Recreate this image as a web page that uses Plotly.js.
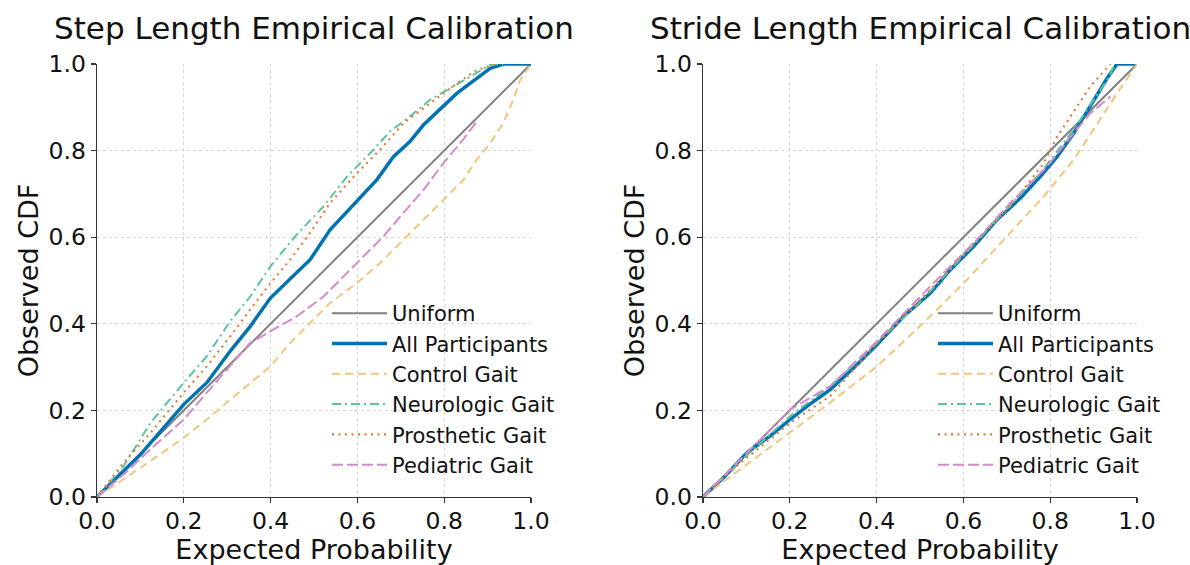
<!DOCTYPE html>
<html>
<head>
<meta charset="utf-8">
<script src="https://cdn.plot.ly/plotly-3.0.1.min.js"></script>
<style>html,body{margin:0;padding:0;background:#fff;}#chart{width:1190px;height:565px;}</style>
</head>
<body>
<div id="chart"></div>
<script>
// ---------- Data ----------
const uniformX = [0, 1];
const uniformY = [0, 1];

// Step length (left panel)
const stepAllX = [0, 0.1, 0.2, 0.253, 0.307, 0.353, 0.4, 0.453, 0.491, 0.537, 0.599, 0.645, 0.683, 0.721, 0.752, 0.798, 0.829, 0.875, 0.906, 0.936, 1.0];
const stepAllY = [0, 0.098, 0.214, 0.264, 0.337, 0.394, 0.46, 0.51, 0.548, 0.617, 0.683, 0.733, 0.786, 0.821, 0.859, 0.902, 0.932, 0.967, 0.99, 1.0, 1.0];
const stepControlX = [0, 0.061, 0.123, 0.2, 0.253, 0.307, 0.4, 0.445, 0.491, 0.537, 0.599, 0.652, 0.706, 0.752, 0.798, 0.844, 0.875, 0.906, 0.936, 0.959, 0.975, 1.0];
const stepControlY = [0, 0.041, 0.083, 0.137, 0.179, 0.225, 0.302, 0.356, 0.402, 0.448, 0.494, 0.54, 0.594, 0.64, 0.686, 0.732, 0.779, 0.817, 0.863, 0.917, 0.963, 1.0];
const stepNeuroX = [0, 0.061, 0.123, 0.2, 0.253, 0.307, 0.353, 0.4, 0.46, 0.522, 0.576, 0.637, 0.675, 0.721, 0.767, 0.813, 0.86, 0.906, 0.936];
const stepNeuroY = [0, 0.071, 0.171, 0.264, 0.325, 0.406, 0.463, 0.533, 0.606, 0.671, 0.74, 0.802, 0.844, 0.879, 0.917, 0.944, 0.971, 0.998, 1.0];
const stepProsX = [0, 0.061, 0.123, 0.2, 0.253, 0.307, 0.353, 0.4, 0.445, 0.491, 0.537, 0.599, 0.652, 0.706, 0.767, 0.829, 0.875, 0.921];
const stepProsY = [0, 0.079, 0.148, 0.241, 0.302, 0.371, 0.433, 0.494, 0.548, 0.61, 0.679, 0.748, 0.802, 0.863, 0.909, 0.955, 0.986, 1.0];
const stepPedX = [0, 0.061, 0.123, 0.2, 0.253, 0.307, 0.353, 0.4, 0.46, 0.522, 0.568, 0.614, 0.66, 0.706, 0.752, 0.798, 0.837, 0.875];
const stepPedY = [0, 0.052, 0.11, 0.179, 0.241, 0.302, 0.356, 0.383, 0.417, 0.463, 0.51, 0.556, 0.602, 0.656, 0.709, 0.771, 0.817, 0.867];

// Stride length (right panel)
const strideAllX = [0, 0.048, 0.101, 0.155, 0.201, 0.24, 0.293, 0.347, 0.401, 0.462, 0.524, 0.57, 0.624, 0.677, 0.731, 0.777, 0.816, 0.854, 0.892, 0.931, 0.954, 1.0];
const strideAllY = [0, 0.045, 0.102, 0.141, 0.179, 0.21, 0.248, 0.298, 0.352, 0.417, 0.471, 0.525, 0.579, 0.64, 0.69, 0.74, 0.786, 0.84, 0.902, 0.967, 1.0, 1.0];
const strideControlX = [0, 0.086, 0.201, 0.293, 0.401, 0.508, 0.601, 0.693, 0.785, 0.854, 0.908, 0.954, 1.0];
const strideControlY = [0, 0.064, 0.148, 0.218, 0.302, 0.402, 0.494, 0.594, 0.694, 0.779, 0.863, 0.932, 1.0];
const strideNeuroX = [0, 0.1, 0.201, 0.3, 0.401, 0.5, 0.624, 0.7, 0.777, 0.854, 0.931, 0.95];
const strideNeuroY = [0, 0.095, 0.187, 0.262, 0.356, 0.45, 0.583, 0.665, 0.748, 0.848, 0.963, 1.0];
const strideProsX = [0, 0.086, 0.201, 0.293, 0.401, 0.524, 0.631, 0.708, 0.785, 0.816, 0.862, 0.892, 0.939];
const strideProsY = [0, 0.079, 0.171, 0.233, 0.356, 0.479, 0.594, 0.671, 0.771, 0.832, 0.902, 0.948, 1.0];
const stridePedX = [0, 0.086, 0.201, 0.293, 0.401, 0.524, 0.631, 0.708, 0.793, 0.854, 0.892, 0.939];
const stridePedY = [0, 0.087, 0.202, 0.256, 0.36, 0.487, 0.594, 0.679, 0.763, 0.84, 0.886, 0.925];

const seriesNames = ["Uniform", "All Participants", "Control Gait", "Neurologic Gait", "Prosthetic Gait", "Pediatric Gait"];
const panelTitles = ["Step Length Empirical Calibration", "Stride Length Empirical Calibration"];
const tickVals = [0, 0.2, 0.4, 0.6, 0.8, 1.0];
const tickText = ["0.0", "0.2", "0.4", "0.6", "0.8", "1.0"];

// ---------- Styles ----------
const styles = [
  {color: "#808080", width: 2, dash: "solid"},
  {color: "#0173b2", width: 3.5, dash: "solid"},
  {color: "#f2c57c", width: 2, dash: "8px,5px"},
  {color: "#5cc3a2", width: 2, dash: "9px,4px,2px,4px"},
  {color: "#e07b39", width: 2.2, dash: "2px,4.5px"},
  {color: "#d68ac8", width: 2, dash: "11px,4px"}
];
const FONT = "DejaVu Sans, Verdana, sans-serif";

function mk(x, y, i, ax, leg) {
  return {
    x: x, y: y, type: "scatter", mode: "lines", name: seriesNames[i],
    xaxis: ax.x, yaxis: ax.y, legend: leg,
    line: {color: styles[i].color, width: styles[i].width, dash: styles[i].dash}
  };
}
const A1 = {x: "x", y: "y"}, A2 = {x: "x2", y: "y2"};
const traces = [
  mk(uniformX, uniformY, 0, A1, "legend"),
  mk(stepAllX, stepAllY, 1, A1, "legend"),
  mk(stepControlX, stepControlY, 2, A1, "legend"),
  mk(stepNeuroX, stepNeuroY, 3, A1, "legend"),
  mk(stepProsX, stepProsY, 4, A1, "legend"),
  mk(stepPedX, stepPedY, 5, A1, "legend"),
  mk(uniformX, uniformY, 0, A2, "legend2"),
  mk(strideAllX, strideAllY, 1, A2, "legend2"),
  mk(strideControlX, strideControlY, 2, A2, "legend2"),
  mk(strideNeuroX, strideNeuroY, 3, A2, "legend2"),
  mk(strideProsX, strideProsY, 4, A2, "legend2"),
  mk(stridePedX, stridePedY, 5, A2, "legend2")
];

const W = 1190, H = 565;
function axisBase(domain, title, standoff, tls) {
  return {
    domain: domain, range: [0, 1], autorange: false,
    tickvals: tickVals, ticktext: tickText,
    ticks: "outside", ticklen: 5, tickwidth: 1.3, tickcolor: "#333",
    ticklabelstandoff: tls,
    showline: true, linecolor: "#333", linewidth: 1.4, mirror: false,
    showgrid: true, gridcolor: "#d9d9d9", gridwidth: 1, griddash: "dot",
    zeroline: false,
    tickfont: {family: FONT, size: 23.5, color: "#111"},
    title: {text: title, font: {family: FONT, size: 27, color: "#111"}, standoff: standoff},
    automargin: false, fixedrange: true
  };
}
const yDom = [(H - 497) / H, (H - 64) / H];
const legendBase = {
  xanchor: "left", yanchor: "top", y: 1 - 293 / H,
  bgcolor: "rgba(0,0,0,0)", borderwidth: 0, itemwidth: 55,
  font: {family: FONT, size: 21, color: "#111"}
};
const layout = {
  width: W, height: H,
  margin: {l: 0, r: 0, t: 0, b: 0},
  paper_bgcolor: "#fff", plot_bgcolor: "#fff",
  font: {family: FONT, color: "#111"},
  xaxis: Object.assign(axisBase([97 / W, 531 / W], "Expected Probability", 2, -3), {anchor: "y"}),
  yaxis: Object.assign(axisBase(yDom, "Observed CDF", 2, 0), {anchor: "x"}),
  xaxis2: Object.assign(axisBase([703 / W, 1137 / W], "Expected Probability", 2, -3), {anchor: "y2"}),
  yaxis2: Object.assign(axisBase(yDom, "Observed CDF", 2, 0), {anchor: "x2"}),
  legend: Object.assign({}, legendBase, {x: 327 / W}),
  legend2: Object.assign({}, legendBase, {x: 933 / W}),
  showlegend: true,
  annotations: [
    {text: panelTitles[0], xref: "paper", yref: "paper", x: 314 / W, y: 1 - 28 / H,
     xanchor: "center", yanchor: "middle", showarrow: false,
     font: {family: FONT, size: 31, color: "#111"}},
    {text: panelTitles[1], xref: "paper", yref: "paper", x: 920 / W, y: 1 - 28 / H,
     xanchor: "center", yanchor: "middle", showarrow: false,
     font: {family: FONT, size: 31, color: "#111"}}
  ]
};
Plotly.newPlot("chart", traces, layout, {displayModeBar: false, staticPlot: true});
</script>
</body>
</html>
